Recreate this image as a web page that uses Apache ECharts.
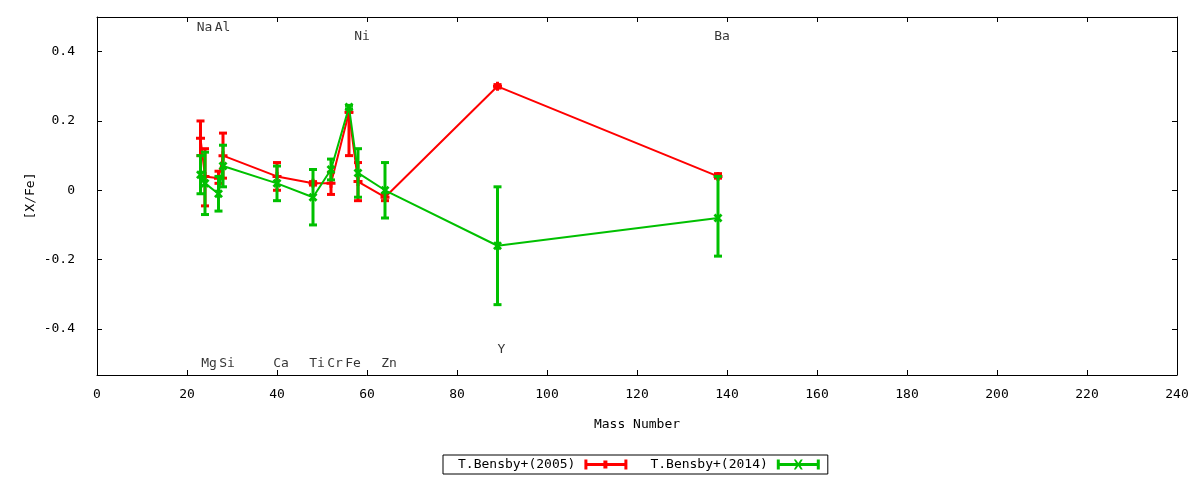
<!DOCTYPE html>
<html>
<head>
<meta charset="utf-8">
<script src="https://cdn.jsdelivr.net/npm/echarts@6/dist/echarts.min.js"></script>
<style>
html,body{margin:0;padding:0;background:#fff;}
#chart{width:1200px;height:480px;}
</style>
</head>
<body>
<div id="chart"></div>
<script>
// ---- data ----
const elements = ['Na','Mg','Al','Si','Ca','Ti','Cr','Fe','Ni','Zn','Y','Ba'];
const massNumbers = [23,24,27,28,40,48,52,56,58,64,89,138];
const labelYPos = [0.47,-0.5,0.47,-0.5,-0.5,-0.5,-0.5,-0.5,0.442,-0.5,-0.46,0.442];

const bensby2005 = [0.15,0.04,0.035,0.10,0.04,0.02,0.02,0.225,0.025,-0.02,0.30,0.04];
const bensby2005Low = [0.10,-0.045,0.02,0.035,0.0,0.015,-0.012,0.10,-0.03,-0.03,0.295,0.035];
const bensby2005High = [0.20,0.12,0.055,0.165,0.08,0.025,0.052,0.225,0.08,-0.01,0.305,0.048];

const bensby2014 = [0.045,0.02,-0.01,0.07,0.02,-0.02,0.06,0.24,0.05,0.0,-0.16,-0.08];
const bensby2014Low = [-0.01,-0.07,-0.06,0.01,-0.03,-0.10,0.03,0.235,-0.02,-0.08,-0.33,-0.19];
const bensby2014High = [0.10,0.11,0.04,0.13,0.07,0.06,0.09,0.245,0.12,0.08,0.01,0.04];

const xTicks = [0,20,40,60,80,100,120,140,160,180,200,220,240];
const yTicks = [-0.4,-0.2,0,0.2,0.4];

const seriesNames = ['T.Bensby+(2005)','T.Bensby+(2014)'];
const RED = '#ff0000', GREEN = '#00c000';
const FONT = 'DejaVu Sans Mono';

const chart = echarts.init(document.getElementById('chart'));

function errData(vals, lo, hi){
  return massNumbers.map((m,i)=>[m, lo[i], hi[i], vals[i]]);
}
function errRender(color){
  return function(params, api){
    const x = api.value(0);
    const pLo = api.coord([x, api.value(1)]);
    const pHi = api.coord([x, api.value(2)]);
    const cw = 4;
    const style = {stroke: color, lineWidth: 3, fill: null};
    return {
      type: 'group',
      children: [
        {type:'line', shape:{x1:pLo[0], y1:pLo[1], x2:pHi[0], y2:pHi[1]}, style: style},
        {type:'line', shape:{x1:pLo[0]-cw, y1:pLo[1], x2:pLo[0]+cw, y2:pLo[1]}, style: style},
        {type:'line', shape:{x1:pHi[0]-cw, y1:pHi[1], x2:pHi[0]+cw, y2:pHi[1]}, style: style}
      ]
    };
  };
}

const plusSymbol = 'path://M3,0h3v9h-3z M0,3h9v3h-9z';
const crossSymbol = 'path://M0,2L2,0L9,7L7,9Z M7,0L9,2L2,9L0,7Z';
const redIcon = 'path://M0,0h3v10h-3z M40,0h3v10h-3z M0,3.5h43v3h-43z M19,1h4v8h-4z';
const greenIcon = 'path://M0,0h3v10h-3z M40,0h3v10h-3z M0,3.5h43v3h-43z M17,0L19,0L21.5,3.5L24,0L26,0L23,5L26,10L24,10L21.5,6.5L19,10L17,10L20,5Z';

const axisLineStyle = {color:'#000', width:1};
const textStyle = {fontFamily: FONT, fontSize: 13, color:'#000'};

const option = {
  animation: false,
  backgroundColor: '#fff',
  textStyle: {fontFamily: FONT},
  grid: {left: 97, right: 23, top: 17, bottom: 105, containLabel: false},
  legend: {
    data: [
      {name: seriesNames[0], icon: redIcon, itemStyle:{color: RED}},
      {name: seriesNames[1], icon: greenIcon, itemStyle:{color: GREEN}}
    ],
    align: 'right',
    left: 443,
    top: 455,
    orient: 'horizontal',
    itemWidth: 43,
    itemHeight: 10,
    itemGap: 23,
    padding: [3, 8, 3, 15],
    borderColor: '#000',
    borderWidth: 1,
    borderRadius: 0,
    selectedMode: false,
    textStyle: {fontFamily: FONT, fontSize: 13, color:'#000', padding:[0,4,0,0]}
  },
  xAxis: [
    {
      type: 'value', min: 0, max: 240, interval: 20,
      name: 'Mass Number', nameLocation: 'middle', nameGap: 43, nameMoveOverlap: false,
      nameTextStyle: textStyle,
      axisLine: {show: true, onZero: false, lineStyle: axisLineStyle},
      axisTick: {show: true, inside: true, length: 5, lineStyle: axisLineStyle},
      axisLabel: {show: true, margin: 13, ...textStyle, customValues: xTicks},
      splitLine: {show: false}
    },
    {
      type: 'value', min: 0, max: 240, interval: 20, position: 'top',
      axisLine: {show: true, onZero: false, lineStyle: axisLineStyle},
      axisTick: {show: true, inside: true, length: 5, lineStyle: axisLineStyle},
      axisLabel: {show: false},
      splitLine: {show: false}
    }
  ],
  yAxis: [
    {
      type: 'value', min: -0.533, max: 0.5,
      name: '[X/Fe]', nameLocation: 'middle', nameGap: 60, nameRotate: 90, nameMoveOverlap: false,
      nameTextStyle: textStyle,
      axisLine: {show: true, onZero: false, lineStyle: axisLineStyle},
      axisTick: {show: true, inside: true, length: 5, lineStyle: axisLineStyle, customValues: yTicks},
      axisLabel: {show: true, margin: 22, ...textStyle, customValues: yTicks,
        formatter: v => (Math.abs(v) < 1e-9 ? '0' : String(Math.round(v*10)/10))},
      splitLine: {show: false}
    },
    {
      type: 'value', min: -0.533, max: 0.5, position: 'right',
      axisLine: {show: true, onZero: false, lineStyle: axisLineStyle},
      axisTick: {show: true, inside: true, length: 5, lineStyle: axisLineStyle, customValues: yTicks},
      axisLabel: {show: false, customValues: yTicks},
      splitLine: {show: false}
    }
  ],
  series: [
    {
      name: seriesNames[0], type: 'custom', renderItem: errRender(RED),
      data: errData(bensby2005, bensby2005Low, bensby2005High),
      encode: {x: 0, y: [1,2]}, itemStyle:{color: RED}, silent: true, z: 2
    },
    {
      name: seriesNames[0], type: 'line',
      data: massNumbers.map((m,i)=>[m, bensby2005[i]]),
      symbol: plusSymbol, symbolSize: 9, showAllSymbol: true,
      lineStyle: {color: RED, width: 2}, itemStyle: {color: RED},
      silent: true, z: 3
    },
    {
      name: seriesNames[1], type: 'custom', renderItem: errRender(GREEN),
      data: errData(bensby2014, bensby2014Low, bensby2014High),
      encode: {x: 0, y: [1,2]}, itemStyle:{color: GREEN}, silent: true, z: 4
    },
    {
      name: seriesNames[1], type: 'line',
      data: massNumbers.map((m,i)=>[m, bensby2014[i]]),
      symbol: crossSymbol, symbolSize: 9, showAllSymbol: true,
      lineStyle: {color: GREEN, width: 2}, itemStyle: {color: GREEN},
      silent: true, z: 5
    },
    {
      name: 'elementLabels', type: 'scatter',
      data: elements.map((e,i)=>({name: e, value: [massNumbers[i], labelYPos[i]]})),
      symbolSize: 0,
      label: {show: true, position: 'inside', offset: [4, 0], formatter: p => p.name,
        fontFamily: FONT, fontSize: 13, color: '#000'},
      silent: true, z: 6
    }
  ]
};
chart.setOption(option);
</script>
</body>
</html>
